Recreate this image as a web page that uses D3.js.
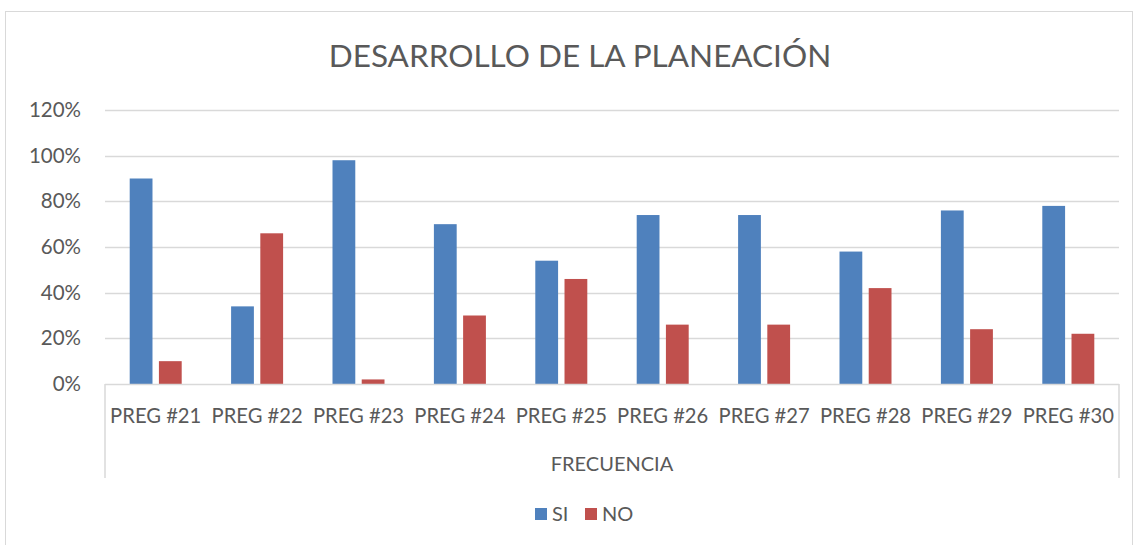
<!DOCTYPE html>
<html>
<head>
<meta charset="utf-8">
<script src="https://cdn.jsdelivr.net/npm/d3@7"></script>
<style>
  body { margin: 0; background: #fff; }
  text { font-family: Lato, "Open Sans", sans-serif; fill: #595959; }
</style>
</head>
<body>
<div id="chart"></div>
<script>
// data
const categories = ["PREG #21", "PREG #22", "PREG #23", "PREG #24", "PREG #25",
                    "PREG #26", "PREG #27", "PREG #28", "PREG #29", "PREG #30"];
const siValues = [0.90, 0.34, 0.98, 0.70, 0.54, 0.74, 0.74, 0.58, 0.76, 0.78];
const noValues = [0.10, 0.66, 0.02, 0.30, 0.46, 0.26, 0.26, 0.42, 0.24, 0.22];
const seriesNames = ["SI", "NO"];
const yTicks = [0, 0.2, 0.4, 0.6, 0.8, 1.0, 1.2];

const width = 1138, height = 545;
const colors = { SI: "#4f81bd", NO: "#c0504d" };

const svg = d3.select("#chart").append("svg")
  .attr("width", width)
  .attr("height", height);

// chart frame
svg.append("rect")
  .attr("x", 5.5).attr("y", 11.5)
  .attr("width", 1127).attr("height", 560)
  .attr("fill", "none").attr("stroke", "#d9d9d9");

const plot = { left: 105, right: 1119, top: 110, bottom: 384 };

const x = d3.scaleBand()
  .domain(categories)
  .range([plot.left, plot.right]);

const x1 = d3.scaleBand()
  .domain(seriesNames)
  .range([0, 52])
  .paddingInner(0.22);

const y = d3.scaleLinear()
  .domain([0, 1.2])
  .range([plot.bottom, plot.top]);

// title
svg.append("text")
  .attr("x", 580).attr("y", 67)
  .attr("text-anchor", "middle")
  .attr("font-size", 31.5)
  .text("DESARROLLO DE LA PLANEACIÓN");

// gridlines
svg.append("g")
  .selectAll("line")
  .data(yTicks.filter(d => d > 0))
  .join("line")
  .attr("x1", plot.left).attr("x2", plot.right)
  .attr("y1", d => Math.round(y(d)) + 0.5)
  .attr("y2", d => Math.round(y(d)) + 0.5)
  .attr("stroke", "#d9d9d9").attr("stroke-width", 1.5);

// y labels
const yAxis = d3.axisLeft(y)
  .tickValues(yTicks)
  .tickFormat(d3.format(".0%"))
  .tickSize(0)
  .tickPadding(0);

svg.append("g")
  .attr("transform", "translate(81,0)")
  .call(yAxis)
  .call(g => g.select(".domain").remove())
  .call(g => g.selectAll("text")
    .attr("font-size", 20.5)
    .attr("font-family", "Lato, sans-serif")
    .attr("fill", "#595959"));

// bars
const groups = svg.append("g")
  .selectAll("g")
  .data(categories)
  .join("g")
  .attr("transform", d => `translate(${x(d) + x.bandwidth() / 2 - 26},0)`);

groups.selectAll("rect")
  .data((d, i) => [
    { key: "SI", value: siValues[i] },
    { key: "NO", value: noValues[i] }
  ])
  .join("rect")
  .attr("x", d => x1(d.key))
  .attr("width", x1.bandwidth())
  .attr("y", d => y(d.value))
  .attr("height", d => plot.bottom - y(d.value))
  .attr("fill", d => colors[d.key]);

// category axis box
const axisBox = svg.append("g").attr("stroke", "#d9d9d9").attr("stroke-width", 1.5);
axisBox.append("line")
  .attr("x1", plot.left).attr("x2", plot.right)
  .attr("y1", plot.bottom + 0.5).attr("y2", plot.bottom + 0.5);
axisBox.append("line")
  .attr("x1", plot.left).attr("x2", plot.left)
  .attr("y1", plot.bottom).attr("y2", 478);
axisBox.append("line")
  .attr("x1", plot.right).attr("x2", plot.right)
  .attr("y1", plot.bottom).attr("y2", 478);

svg.append("g")
  .selectAll("text")
  .data(categories)
  .join("text")
  .attr("x", d => x(d) + x.bandwidth() / 2)
  .attr("y", 423)
  .attr("text-anchor", "middle")
  .attr("font-size", 20.2)
  .text(d => d);

svg.append("text")
  .attr("x", 612).attr("y", 471)
  .attr("text-anchor", "middle")
  .attr("font-size", 20)
  .text("FRECUENCIA");

// legend
const legendPos = { SI: 535, NO: 585 };
const legend = svg.append("g")
  .selectAll("g")
  .data(seriesNames)
  .join("g")
  .attr("transform", d => `translate(${legendPos[d]},508)`);

legend.append("rect")
  .attr("width", 12).attr("height", 12)
  .attr("fill", d => colors[d]);

legend.append("text")
  .attr("x", 17).attr("y", 13)
  .attr("font-size", 20)
  .text(d => d);
</script>
</body>
</html>
